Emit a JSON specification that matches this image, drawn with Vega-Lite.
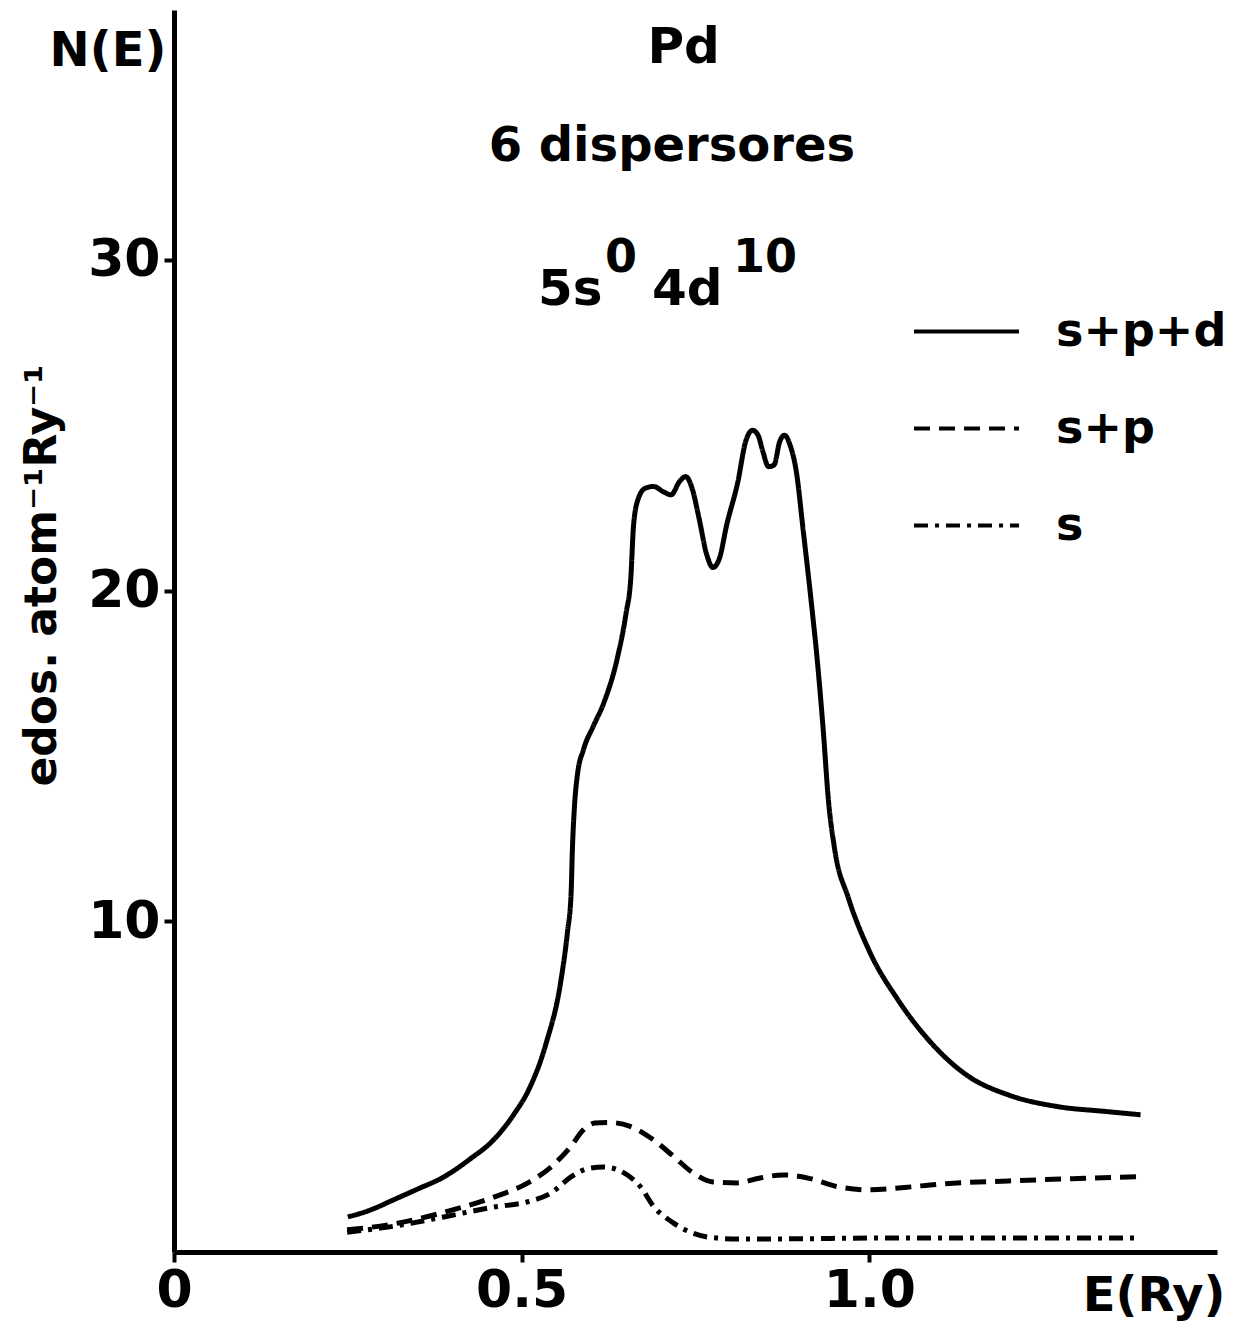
{
  "$schema": "https://vega.github.io/schema/vega-lite/v6.json",
  "autosize": {"type": "none"},
  "padding": {"left": 174, "top": 10, "right": 21, "bottom": 75},
  "width": 1043,
  "height": 1242,
  "background": "white",
  "config": {
    "view": {"stroke": null},
    "font": "DejaVu Sans"
  },
  "datasets": {
    "curves": [
      {"E": 0.25, "N": 1.06, "series": "s+p+d"},
      {"E": 0.28, "N": 1.25, "series": "s+p+d"},
      {"E": 0.316, "N": 1.58, "series": "s+p+d"},
      {"E": 0.35, "N": 1.9, "series": "s+p+d"},
      {"E": 0.388, "N": 2.27, "series": "s+p+d"},
      {"E": 0.425, "N": 2.8, "series": "s+p+d"},
      {"E": 0.46, "N": 3.4, "series": "s+p+d"},
      {"E": 0.49, "N": 4.2, "series": "s+p+d"},
      {"E": 0.51, "N": 4.9, "series": "s+p+d"},
      {"E": 0.535, "N": 6.3, "series": "s+p+d"},
      {"E": 0.556, "N": 8.15, "series": "s+p+d"},
      {"E": 0.566, "N": 9.7, "series": "s+p+d"},
      {"E": 0.571, "N": 10.8, "series": "s+p+d"},
      {"E": 0.573, "N": 12.2, "series": "s+p+d"},
      {"E": 0.576, "N": 13.5, "series": "s+p+d"},
      {"E": 0.58, "N": 14.4, "series": "s+p+d"},
      {"E": 0.589, "N": 15.2, "series": "s+p+d"},
      {"E": 0.603, "N": 15.9, "series": "s+p+d"},
      {"E": 0.618, "N": 16.6, "series": "s+p+d"},
      {"E": 0.638, "N": 18.0, "series": "s+p+d"},
      {"E": 0.65, "N": 19.3, "series": "s+p+d"},
      {"E": 0.657, "N": 20.4, "series": "s+p+d"},
      {"E": 0.661, "N": 22.0, "series": "s+p+d"},
      {"E": 0.668, "N": 22.8, "series": "s+p+d"},
      {"E": 0.678, "N": 23.1, "series": "s+p+d"},
      {"E": 0.69, "N": 23.15, "series": "s+p+d"},
      {"E": 0.703, "N": 23.0, "series": "s+p+d"},
      {"E": 0.715, "N": 22.9, "series": "s+p+d"},
      {"E": 0.727, "N": 23.3, "series": "s+p+d"},
      {"E": 0.736, "N": 23.45, "series": "s+p+d"},
      {"E": 0.745, "N": 23.1, "series": "s+p+d"},
      {"E": 0.755, "N": 22.2, "series": "s+p+d"},
      {"E": 0.766, "N": 21.1, "series": "s+p+d"},
      {"E": 0.775, "N": 20.7, "series": "s+p+d"},
      {"E": 0.784, "N": 20.95, "series": "s+p+d"},
      {"E": 0.795, "N": 22.0, "series": "s+p+d"},
      {"E": 0.811, "N": 23.3, "series": "s+p+d"},
      {"E": 0.822, "N": 24.5, "series": "s+p+d"},
      {"E": 0.832, "N": 24.85, "series": "s+p+d"},
      {"E": 0.84, "N": 24.7, "series": "s+p+d"},
      {"E": 0.847, "N": 24.2, "series": "s+p+d"},
      {"E": 0.855, "N": 23.75, "series": "s+p+d"},
      {"E": 0.863, "N": 23.8, "series": "s+p+d"},
      {"E": 0.871, "N": 24.5, "series": "s+p+d"},
      {"E": 0.878, "N": 24.7, "series": "s+p+d"},
      {"E": 0.886, "N": 24.4, "series": "s+p+d"},
      {"E": 0.895, "N": 23.6, "series": "s+p+d"},
      {"E": 0.905, "N": 21.8, "series": "s+p+d"},
      {"E": 0.916, "N": 19.75, "series": "s+p+d"},
      {"E": 0.926, "N": 17.7, "series": "s+p+d"},
      {"E": 0.934, "N": 15.7, "series": "s+p+d"},
      {"E": 0.941, "N": 13.7, "series": "s+p+d"},
      {"E": 0.95, "N": 12.2, "series": "s+p+d"},
      {"E": 0.97, "N": 10.7, "series": "s+p+d"},
      {"E": 1.0, "N": 9.1, "series": "s+p+d"},
      {"E": 1.042, "N": 7.6, "series": "s+p+d"},
      {"E": 1.09, "N": 6.3, "series": "s+p+d"},
      {"E": 1.14, "N": 5.35, "series": "s+p+d"},
      {"E": 1.2, "N": 4.75, "series": "s+p+d"},
      {"E": 1.27, "N": 4.4, "series": "s+p+d"},
      {"E": 1.34, "N": 4.25, "series": "s+p+d"},
      {"E": 1.39, "N": 4.15, "series": "s+p+d"},

      {"E": 0.249, "N": 0.67, "series": "s+p"},
      {"E": 0.316, "N": 0.85, "series": "s+p"},
      {"E": 0.388, "N": 1.2, "series": "s+p"},
      {"E": 0.46, "N": 1.66, "series": "s+p"},
      {"E": 0.509, "N": 2.09, "series": "s+p"},
      {"E": 0.542, "N": 2.57, "series": "s+p"},
      {"E": 0.571, "N": 3.2, "series": "s+p"},
      {"E": 0.589, "N": 3.7, "series": "s+p"},
      {"E": 0.605, "N": 3.9, "series": "s+p"},
      {"E": 0.625, "N": 3.92, "series": "s+p"},
      {"E": 0.656, "N": 3.8, "series": "s+p"},
      {"E": 0.689, "N": 3.4, "series": "s+p"},
      {"E": 0.718, "N": 2.9, "series": "s+p"},
      {"E": 0.746, "N": 2.4, "series": "s+p"},
      {"E": 0.775, "N": 2.12, "series": "s+p"},
      {"E": 0.81, "N": 2.09, "series": "s+p"},
      {"E": 0.843, "N": 2.24, "series": "s+p"},
      {"E": 0.876, "N": 2.33, "series": "s+p"},
      {"E": 0.915, "N": 2.22, "series": "s+p"},
      {"E": 0.953, "N": 1.98, "series": "s+p"},
      {"E": 1.0, "N": 1.88, "series": "s+p"},
      {"E": 1.05, "N": 1.95, "series": "s+p"},
      {"E": 1.1, "N": 2.05, "series": "s+p"},
      {"E": 1.2, "N": 2.15, "series": "s+p"},
      {"E": 1.3, "N": 2.22, "series": "s+p"},
      {"E": 1.39, "N": 2.28, "series": "s+p"},

      {"E": 0.249, "N": 0.6, "series": "s"},
      {"E": 0.316, "N": 0.78, "series": "s"},
      {"E": 0.388, "N": 1.06, "series": "s"},
      {"E": 0.46, "N": 1.36, "series": "s"},
      {"E": 0.509, "N": 1.52, "series": "s"},
      {"E": 0.542, "N": 1.78, "series": "s"},
      {"E": 0.571, "N": 2.27, "series": "s"},
      {"E": 0.595, "N": 2.52, "series": "s"},
      {"E": 0.618, "N": 2.57, "series": "s"},
      {"E": 0.652, "N": 2.33, "series": "s"},
      {"E": 0.671, "N": 1.97, "series": "s"},
      {"E": 0.689, "N": 1.4, "series": "s"},
      {"E": 0.718, "N": 0.88, "series": "s"},
      {"E": 0.746, "N": 0.57, "series": "s"},
      {"E": 0.781, "N": 0.42, "series": "s"},
      {"E": 0.814, "N": 0.39, "series": "s"},
      {"E": 0.9, "N": 0.4, "series": "s"},
      {"E": 1.0, "N": 0.42, "series": "s"},
      {"E": 1.1, "N": 0.42, "series": "s"},
      {"E": 1.2, "N": 0.42, "series": "s"},
      {"E": 1.3, "N": 0.42, "series": "s"},
      {"E": 1.39, "N": 0.42, "series": "s"}
    ]
  },
  "layer": [
    {
      "data": {"name": "curves"},
      "mark": {"type": "line", "interpolate": "monotone", "color": "black", "strokeWidth": 5},
      "encoding": {
        "x": {
          "field": "E", "type": "quantitative",
          "scale": {"domain": [0, 1.5], "nice": false, "zero": true},
          "axis": {
            "values": [0, 0.5, 1.0],
            "labelExpr": "datum.value == 0 ? '0' : format(datum.value, '.1f')",
            "grid": false,
            "domainColor": "black", "domainWidth": 5,
            "tickColor": "black", "tickWidth": 4, "tickSize": 10,
            "labelFont": "DejaVu Sans", "labelFontWeight": "bold", "labelFontSize": 52,
            "labelColor": "black", "labelPadding": 3, "labelFlush": false,
            "title": "E(Ry)",
            "titleFont": "DejaVu Sans", "titleFontWeight": "bold", "titleFontSize": 48,
            "titleColor": "black",
            "titleX": 1051, "titleY": 20, "titleAlign": "right", "titleBaseline": "top",
            "titleAnchor": "end"
          }
        },
        "y": {
          "field": "N", "type": "quantitative",
          "scale": {"domain": [0, 37.56], "nice": false},
          "axis": {
            "values": [10, 20, 30],
            "grid": false,
            "domainColor": "black", "domainWidth": 5,
            "tickColor": "black", "tickWidth": 4, "tickSize": 10,
            "labelFont": "DejaVu Sans", "labelFontWeight": "bold", "labelFontSize": 52,
            "labelColor": "black", "labelPadding": 4,
            "title": "edos. atom⁻¹Ry⁻¹",
            "titleFont": "DejaVu Sans", "titleFontWeight": "bold", "titleFontSize": 44,
            "titleColor": "black",
            "titleX": -132, "titleY": 565, "titleAngle": 270,
            "titleAlign": "center", "titleBaseline": "middle"
          }
        },
        "strokeDash": {
          "field": "series", "type": "nominal",
          "scale": {"domain": ["s+p+d", "s+p", "s"], "range": [[1, 0], [16, 9], [14, 7, 4, 7]]},
          "legend": {
            "title": null,
            "orient": "none",
            "legendX": 738,
            "legendY": 267,
            "symbolType": "stroke",
            "symbolSize": 11025,
            "symbolStrokeWidth": 4,
            "symbolStrokeColor": "black",
            "labelFont": "DejaVu Sans",
            "labelFontWeight": "bold",
            "labelFontSize": 46,
            "labelColor": "black",
            "labelOffset": 35,
            "labelLimit": 400,
            "rowPadding": 19,
            "symbolOffset": 0
          }
        }
      }
    },
    {
      "data": {"values": [{"t": "N(E)"}]},
      "mark": {"type": "text", "font": "DejaVu Sans", "fontWeight": "bold", "fontSize": 48, "align": "center", "baseline": "middle", "color": "black"},
      "encoding": {"x": {"datum": -0.095}, "y": {"datum": 36.3}, "text": {"field": "t"}}
    },
    {
      "data": {"values": [{"t": "Pd"}]},
      "mark": {"type": "text", "font": "DejaVu Sans", "fontWeight": "bold", "fontSize": 50, "align": "center", "baseline": "alphabetic", "color": "black"},
      "encoding": {"x": {"datum": 0.733}, "y": {"datum": 35.95}, "text": {"field": "t"}}
    },
    {
      "data": {"values": [{"t": "6 dispersores"}]},
      "mark": {"type": "text", "font": "DejaVu Sans", "fontWeight": "bold", "fontSize": 48, "align": "center", "baseline": "alphabetic", "color": "black"},
      "encoding": {"x": {"datum": 0.716}, "y": {"datum": 32.98}, "text": {"field": "t"}}
    },
    {
      "data": {"values": [{"t": "5s"}]},
      "mark": {"type": "text", "font": "DejaVu Sans", "fontWeight": "bold", "fontSize": 50, "align": "left", "baseline": "alphabetic", "color": "black"},
      "encoding": {"x": {"datum": 0.5235}, "y": {"datum": 28.64}, "text": {"field": "t"}}
    },
    {
      "data": {"values": [{"t": "0"}]},
      "mark": {"type": "text", "font": "DejaVu Sans", "fontWeight": "bold", "fontSize": 46, "align": "left", "baseline": "alphabetic", "color": "black"},
      "encoding": {"x": {"datum": 0.62}, "y": {"datum": 29.63}, "text": {"field": "t"}}
    },
    {
      "data": {"values": [{"t": "4d"}]},
      "mark": {"type": "text", "font": "DejaVu Sans", "fontWeight": "bold", "fontSize": 50, "align": "left", "baseline": "alphabetic", "color": "black"},
      "encoding": {"x": {"datum": 0.6875}, "y": {"datum": 28.64}, "text": {"field": "t"}}
    },
    {
      "data": {"values": [{"t": "10"}]},
      "mark": {"type": "text", "font": "DejaVu Sans", "fontWeight": "bold", "fontSize": 46, "align": "left", "baseline": "alphabetic", "color": "black"},
      "encoding": {"x": {"datum": 0.804}, "y": {"datum": 29.63}, "text": {"field": "t"}}
    }
  ]
}
